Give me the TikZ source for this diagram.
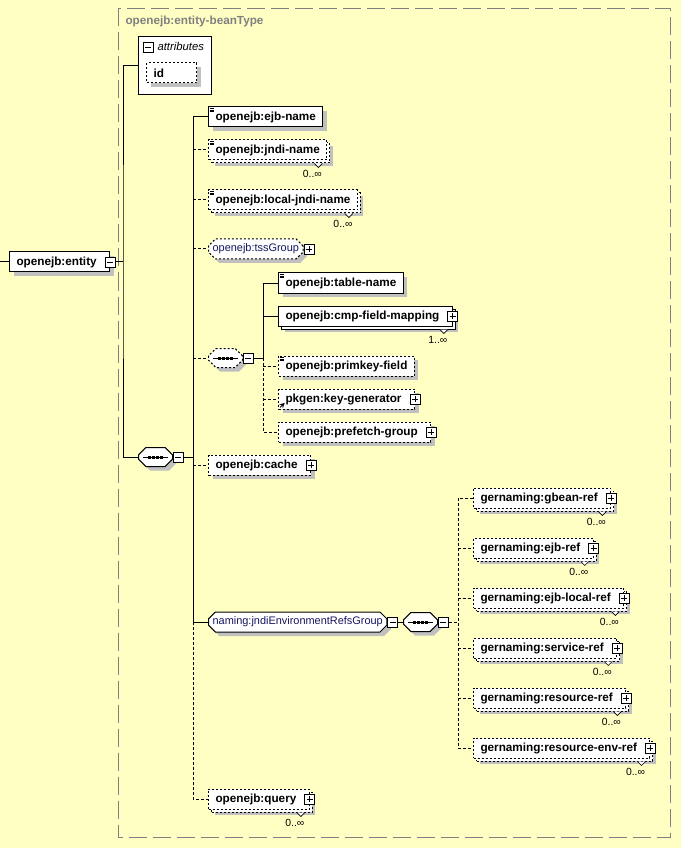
\documentclass[tikz,border=0pt]{standalone}
\usepackage{fontspec}
\setmainfont{Liberation Sans}
\usepackage{tikz}
\usetikzlibrary{arrows}
\usetikzlibrary{shapes.misc}
\usetikzlibrary{positioning}
\definecolor{mbg}{RGB}{255,255,196}
\definecolor{mshade}{RGB}{192,192,192}
\definecolor{mgray}{RGB}{128,128,128}
\definecolor{mnavy}{RGB}{20,20,96}
\newcommand\elfont{\fontsize{8.8}{10}\selectfont\bfseries}
\newcommand\grfont{\fontsize{8.2}{10}\selectfont}
\newcommand\atfont{\fontsize{8.5}{10}\selectfont\itshape}
\newcommand\mufont{\fontsize{7.8}{10}\selectfont}
\tikzset{
  elem/.style={draw, fill=white, anchor=west, minimum height=15pt, inner xsep=5.25pt, inner ysep=0pt, font=\elfont},
  optl/.style={dash pattern=on 1.5pt off 1.5pt},
  optc/.style={dash pattern=on 2.25pt off 1.5pt},
  one/.style={preaction={fill=mshade, transform canvas={xshift=3pt, yshift=-3pt}}},
  many/.style={preaction={fill=mshade, transform canvas={xshift=4.5pt, yshift=-4.5pt}},
    preaction={draw, fill=white, #1, transform canvas={xshift=2.25pt, yshift=-2.25pt}}},
  roomy/.style={execute at end node={\hspace*{4.5pt}}},
  txt/.style={path picture={
    \draw[solid, line width=0.5pt] ([shift={(0.8pt,-1.1pt)}]path picture bounding box.north west) -- ++(3.6pt,0pt)
      ([shift={(0.8pt,-2.3pt)}]path picture bounding box.north west) -- ++(3.6pt,0pt)
      ([shift={(0.8pt,-3.5pt)}]path picture bounding box.north west) -- ++(3.6pt,0pt);}},
  refd/.style={path picture={
    \draw[solid, line width=0.7pt, -stealth] ([shift={(1.2pt,1.2pt)}]path picture bounding box.south west) -- ++(3.4pt,3.4pt);}},
  pbox/.style={draw, solid, fill=white, line width=0.6pt, minimum size=7.5pt, inner sep=0pt},
  minus/.style={pbox, path picture={
    \draw[line width=0.6pt] ([xshift=1.5pt]path picture bounding box.west) -- ([xshift=-1.5pt]path picture bounding box.east);}},
  plus/.style={pbox, path picture={
    \draw[line width=0.6pt] ([xshift=1.5pt]path picture bounding box.west) -- ([xshift=-1.5pt]path picture bounding box.east)
      ([yshift=-1.5pt]path picture bounding box.north) -- ([yshift=1.5pt]path picture bounding box.south);}},
  grp/.style={chamfered rectangle, chamfered rectangle sep=2.6pt, draw, fill=white, anchor=west, minimum height=15pt,
    inner xsep=0.5pt, inner ysep=0pt, font=\grfont, text=mnavy},
  seqc/.style={chamfered rectangle, chamfered rectangle xsep=4pt, chamfered rectangle ysep=3.5pt, draw, fill=white, anchor=west,
    minimum width=25.5pt, minimum height=14.25pt, inner xsep=5pt, inner ysep=2pt},
  dots/.style={line width=2.25pt, dash pattern=on 2.25pt off 0.75pt},
  mult/.style={anchor=east, inner sep=0pt, font=\mufont},
  notch/.style={line width=0.5pt, preaction={fill=white}}
}
\begin{document}
\begin{tikzpicture}[x=0.75pt, y=-0.75pt, line width=0.75pt]
  \useasboundingbox (0,0) rectangle (681,848);
  \fill[mbg] (0,0) rectangle (681,848);
  \draw[mgray, dash pattern=on 13.5pt off 4.5pt] (118,8.5) rectangle (670.5,837.5);
  \node[anchor=west, inner sep=0pt, text=mgray, font=\elfont] (typeLbl) at (125,21) {openejb:entity-beanType};

  \coordinate (rootIn) at (0,262);
  \coordinate (busA) at (123,262);
  \coordinate (busB) at (193,457);
  \coordinate (busC) at (263,358);
  \coordinate (busD) at (458,622);

  \node[elem, one, roomy] (entity) at (9,262) {openejb:entity};
  \node[minus] (entityM) at (entity.east) {};

  \node[draw, fill=white, anchor=north west, minimum width=54.75pt, minimum height=43.5pt, inner sep=0pt] (attrs) at (138,36) {};
  \node[minus] (attrsM) at (148,47) {};
  \node[anchor=west, inner sep=0pt, font=\atfont] (attrsLbl) at (157,46) {attributes};
  \node[elem, one, optl, text width=27pt, align=left] (idAttr) at (146,73) {id};

  \node[seqc, one] (seqMain) at (138,457) {};
  \node[minus, anchor=west] (seqMainM) at (seqMain.east) {};

  \node[elem, one, txt] (ejbName) at (208,117) {openejb:ejb-name};
  \node[elem, many=optl, optl, txt] (jndiName) at (208,150) {openejb:jndi-name};
  \node[elem, many=optl, optl, txt] (localJndi) at (208,200) {openejb:local-jndi-name};
  \node[grp, one, optl] (tssGroup) at (208,249) {openejb:tssGroup};
  \node[plus, anchor=west] (tssGroupP) at (tssGroup.east) {};
  \node[seqc, one, optl] (seqCmp) at (208,358) {};
  \node[minus, anchor=west] (seqCmpM) at (seqCmp.east) {};
  \node[elem, one, optl, roomy] (cache) at (208,465) {openejb:cache};
  \node[plus] (cacheP) at (cache.east) {};
  \node[grp, one] (jndiRefs) at (208,622) {naming:jndiEnvironmentRefsGroup};
  \node[minus, anchor=west] (jndiRefsM) at (jndiRefs.east) {};
  \node[elem, many=optl, optl, roomy] (query) at (208,799) {openejb:query};
  \node[plus] (queryP) at (query.east) {};

  \node[elem, one, txt] (tableName) at (278,283) {openejb:table-name};
  \node[elem, many=solid, roomy] (cmpField) at (278,316) {openejb:cmp-field-mapping};
  \node[plus] (cmpFieldP) at (cmpField.east) {};
  \node[elem, one, optl, txt] (primkey) at (278,366) {openejb:primkey-field};
  \node[elem, one, optl, refd, roomy] (keyGen) at (278,399) {pkgen:key-generator};
  \node[plus] (keyGenP) at (keyGen.east) {};
  \node[elem, one, optl, roomy] (prefetch) at (278,432) {openejb:prefetch-group};
  \node[plus] (prefetchP) at (prefetch.east) {};

  \node[seqc, one] (seqRefs) at (403,622) {};
  \node[minus, anchor=west] (seqRefsM) at (seqRefs.east) {};

  \draw ([xshift=4]seqMain.west) -- ([xshift=-4]seqMain.east);
  \draw[dots] ([xshift=-5.5]seqMain.center) -- ([xshift=5.5]seqMain.center);
  \draw ([xshift=4]seqCmp.west) -- ([xshift=-4]seqCmp.east);
  \draw[dots] ([xshift=-5.5]seqCmp.center) -- ([xshift=5.5]seqCmp.center);
  \draw ([xshift=4]seqRefs.west) -- ([xshift=-4]seqRefs.east);
  \draw[dots] ([xshift=-5.5]seqRefs.center) -- ([xshift=5.5]seqRefs.center);

  \node[elem, many=optl, optl, roomy] (gbeanRef) at (473,498) {gernaming:gbean-ref};
  \node[plus] (gbeanRefP) at (gbeanRef.east) {};
  \node[elem, many=optl, optl, roomy] (ejbRef) at (473,548) {gernaming:ejb-ref};
  \node[plus] (ejbRefP) at (ejbRef.east) {};
  \node[elem, many=optl, optl, roomy] (localRef) at (473,598) {gernaming:ejb-local-ref};
  \node[plus] (localRefP) at (localRef.east) {};
  \node[elem, many=optl, optl, roomy] (serviceRef) at (473,648) {gernaming:service-ref};
  \node[plus] (serviceRefP) at (serviceRef.east) {};
  \node[elem, many=optl, optl, roomy] (resRef) at (473,698) {gernaming:resource-ref};
  \node[plus] (resRefP) at (resRef.east) {};
  \node[elem, many=optl, optl, roomy] (envRef) at (473,748) {gernaming:resource-env-ref};
  \node[plus] (envRefP) at (envRef.east) {};

  \draw[notch] ([shift={(-13,3)}]jndiName.south east) -- ++(4,4) -- ++(4,-4);
  \draw[notch] ([shift={(-13,3)}]localJndi.south east) -- ++(4,4) -- ++(4,-4);
  \draw[notch] ([shift={(-13,3)}]cmpField.south east) -- ++(4,4) -- ++(4,-4);
  \draw[notch] ([shift={(-13,3)}]query.south east) -- ++(4,4) -- ++(4,-4);
  \draw[notch] ([shift={(-13,3)}]gbeanRef.south east) -- ++(4,4) -- ++(4,-4);
  \draw[notch] ([shift={(-13,3)}]ejbRef.south east) -- ++(4,4) -- ++(4,-4);
  \draw[notch] ([shift={(-13,3)}]localRef.south east) -- ++(4,4) -- ++(4,-4);
  \draw[notch] ([shift={(-13,3)}]serviceRef.south east) -- ++(4,4) -- ++(4,-4);
  \draw[notch] ([shift={(-13,3)}]resRef.south east) -- ++(4,4) -- ++(4,-4);
  \draw[notch] ([shift={(-13,3)}]envRef.south east) -- ++(4,4) -- ++(4,-4);

  \node[mult] (jndiNameN) at ([shift={(-5,24)}]jndiName.east) {0..∞};
  \node[mult] (localJndiN) at ([shift={(-5,24)}]localJndi.east) {0..∞};
  \node[mult] (cmpFieldN) at ([shift={(-5,24)}]cmpField.east) {1..∞};
  \node[mult] (queryN) at ([shift={(-5,24)}]query.east) {0..∞};
  \node[mult] (gbeanRefN) at ([shift={(-5,24)}]gbeanRef.east) {0..∞};
  \node[mult] (ejbRefN) at ([shift={(-5,24)}]ejbRef.east) {0..∞};
  \node[mult] (localRefN) at ([shift={(-5,24)}]localRef.east) {0..∞};
  \node[mult] (serviceRefN) at ([shift={(-5,24)}]serviceRef.east) {0..∞};
  \node[mult] (resRefN) at ([shift={(-5,24)}]resRef.east) {0..∞};
  \node[mult] (envRefN) at ([shift={(-5,24)}]envRef.east) {0..∞};

  \draw (rootIn) -- (entity.west);
  \draw (entityM.east) -- (busA);
  \draw (attrs.west) -| (busA) |- (seqMain.west);
  \draw (seqMainM.east) -- (busB);
  \draw (ejbName.west) -| (busB |- jndiRefs.west) -- (jndiRefs.west);
  \draw[optc] (busB |- jndiRefs.west) |- (query.west);
  \draw[optc] (busB |- jndiName.west) -- (jndiName.west);
  \draw[optc] (busB |- localJndi.west) -- (localJndi.west);
  \draw[optc] (busB |- tssGroup.west) -- (tssGroup.west);
  \draw[optc] (busB |- seqCmp.west) -- (seqCmp.west);
  \draw[optc] (busB |- cache.west) -- (cache.west);

  \draw (seqCmpM.east) -- (busC);
  \draw (tableName.west) -| (busC);
  \draw (cmpField.west) -- (busC |- cmpField.west);
  \draw[optc] (busC) |- (prefetch.west);
  \draw[optc] (busC |- primkey.west) -- (primkey.west);
  \draw[optc] (busC |- keyGen.west) -- (keyGen.west);

  \draw (jndiRefsM.east) -- (seqRefs.west);
  \draw[optc] (seqRefsM.east) -- (busD);
  \draw[optc] (gbeanRef.west) -| (busD |- envRef.west) -- (envRef.west);
  \draw[optc] (busD |- ejbRef.west) -- (ejbRef.west);
  \draw[optc] (busD |- localRef.west) -- (localRef.west);
  \draw[optc] (busD |- serviceRef.west) -- (serviceRef.west);
  \draw[optc] (busD |- resRef.west) -- (resRef.west);
\end{tikzpicture}
\end{document}
